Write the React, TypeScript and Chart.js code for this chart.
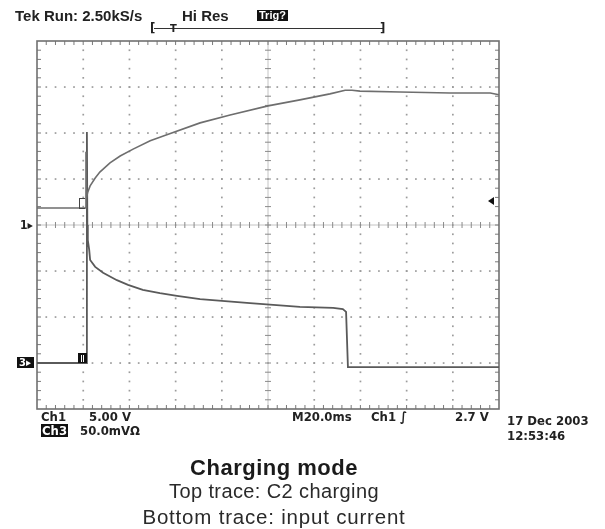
import React, { useEffect, useRef } from "react";
import { Chart, registerables } from "chart.js";

Chart.register(...registerables);

// Time axis in divisions (0..10), vertical axis in divisions (-4..4)
const ch1X = [0, 1.04, 1.06, 1.06, 1.07, 1.1, 1.15, 1.26, 1.36, 1.58, 1.8, 2.08, 2.45, 2.81, 3.53, 4.18, 5.0, 5.69, 6.34, 6.67, 6.82, 6.99, 7.86, 8.94, 9.81, 10];
const ch1Y = [0.37, 0.37, 0.37, 1.59, 0.59, 0.72, 0.85, 1.02, 1.15, 1.35, 1.5, 1.65, 1.83, 1.96, 2.22, 2.39, 2.59, 2.72, 2.85, 2.93, 2.93, 2.91, 2.89, 2.87, 2.87, 2.83];

const ch3X = [0, 1.08, 1.08, 1.09, 1.1, 1.13, 1.15, 1.26, 1.43, 1.73, 1.97, 2.29, 2.66, 3.03, 3.53, 4.61, 5.69, 6.41, 6.62, 6.69, 6.73, 10];
const ch3Y = [-3.0, -3.0, 2.02, 0, -0.33, -0.54, -0.76, -0.91, -1.04, -1.2, -1.3, -1.41, -1.48, -1.54, -1.61, -1.7, -1.78, -1.8, -1.83, -1.89, -3.09, -3.09];

const xDivs = [0, 10];
const yDivs = [-4, 4];

const toPoints = (xs: number[], ys: number[]) => xs.map((x, i) => ({ x, y: ys[i] }));

const scopeGrid = {
  id: "scopeGrid",
  beforeDatasetsDraw(chart: any) {
    const { ctx, chartArea: a, scales } = chart;
    const sx = scales.x;
    const sy = scales.y;
    ctx.save();
    // dotted graticule
    ctx.fillStyle = "#9c9c9c";
    for (let gx = xDivs[0] + 1; gx < xDivs[1]; gx++) {
      if (gx === 5) continue;
      const px = sx.getPixelForValue(gx);
      for (let k = 1; k < (yDivs[1] - yDivs[0]) * 5; k++) {
        const py = sy.getPixelForValue(yDivs[0] + k * 0.2);
        ctx.fillRect(px - 0.8, py - 0.8, 1.7, 1.7);
      }
    }
    for (let gy = yDivs[0] + 1; gy < yDivs[1]; gy++) {
      if (gy === 0) continue;
      const py = sy.getPixelForValue(gy);
      for (let k = 1; k < (xDivs[1] - xDivs[0]) * 5; k++) {
        const px = sx.getPixelForValue(xDivs[0] + k * 0.2);
        ctx.fillRect(px - 0.8, py - 0.8, 1.7, 1.7);
      }
    }
    // center cross lines
    const cx = sx.getPixelForValue(5);
    const cy = sy.getPixelForValue(0);
    ctx.strokeStyle = "#c4c4c4";
    ctx.lineWidth = 1;
    ctx.beginPath();
    ctx.moveTo(a.left, cy);
    ctx.lineTo(a.right, cy);
    ctx.moveTo(cx, a.top);
    ctx.lineTo(cx, a.bottom);
    ctx.stroke();
    ctx.strokeStyle = "#8a8a8a";
    ctx.beginPath();
    for (let k = 1; k < 50; k++) {
      const px = sx.getPixelForValue(k * 0.2);
      ctx.moveTo(px, cy - 3);
      ctx.lineTo(px, cy + 3);
    }
    for (let k = 1; k < 40; k++) {
      const py = sy.getPixelForValue(-4 + k * 0.2);
      ctx.moveTo(cx - 3, py);
      ctx.lineTo(cx + 3, py);
    }
    ctx.stroke();
    // border ticks
    ctx.strokeStyle = "#7a7a7a";
    ctx.beginPath();
    for (let k = 1; k < 50; k++) {
      const px = sx.getPixelForValue(k * 0.2);
      ctx.moveTo(px, a.top);
      ctx.lineTo(px, a.top + 4);
      ctx.moveTo(px, a.bottom);
      ctx.lineTo(px, a.bottom - 4);
    }
    for (let k = 1; k < 40; k++) {
      const py = sy.getPixelForValue(-4 + k * 0.2);
      ctx.moveTo(a.left, py);
      ctx.lineTo(a.left + 4, py);
      ctx.moveTo(a.right, py);
      ctx.lineTo(a.right - 4, py);
    }
    ctx.stroke();
    // border
    ctx.strokeStyle = "#707070";
    ctx.lineWidth = 1.6;
    ctx.strokeRect(a.left, a.top, a.right - a.left, a.bottom - a.top);
    ctx.restore();
  },
};

const scope: React.CSSProperties = {
  position: "absolute",
  fontFamily: "'DejaVu Sans', sans-serif",
  fontStretch: "condensed",
  fontWeight: "bold",
  fontSize: 13,
  lineHeight: "13px",
  color: "#222",
  whiteSpace: "nowrap",
};

const head: React.CSSProperties = {
  position: "absolute",
  fontFamily: "'Liberation Sans', Arial, sans-serif",
  fontWeight: "bold",
  fontSize: 15,
  lineHeight: "15px",
  color: "#222",
  whiteSpace: "nowrap",
};

export default function App() {
  const ref = useRef<HTMLCanvasElement | null>(null);
  useEffect(() => {
    if (!ref.current) return;
    const chart = new Chart(ref.current, {
      type: "line",
      data: {
        datasets: [
          {
            label: "Ch1",
            data: toPoints(ch1X, ch1Y),
            borderColor: "#6e6e6e",
            borderWidth: 1.6,
            pointRadius: 0,
            tension: 0,
          },
          {
            label: "Ch3",
            data: toPoints(ch3X, ch3Y),
            borderColor: "#5a5a5a",
            borderWidth: 1.8,
            pointRadius: 0,
            tension: 0,
          },
        ],
      },
      options: {
        animation: false,
        responsive: false,
        devicePixelRatio: 1,
        layout: { padding: { left: 37, top: 41, right: 106, bottom: 120 } },
        scales: {
          x: { type: "linear", min: xDivs[0], max: xDivs[1], display: false },
          y: { type: "linear", min: yDivs[0], max: yDivs[1], display: false },
        },
        plugins: { legend: { display: false }, tooltip: { enabled: false } },
      },
      plugins: [scopeGrid],
    });
    return () => chart.destroy();
  }, []);

  return (
    <div style={{ position: "fixed", left: 0, top: 0, width: 605, height: 529, background: "#fff", overflow: "hidden" }}>
      <canvas ref={ref} width={605} height={529} style={{ position: "absolute", left: 0, top: 0 }} />
      {/* header */}
      <div style={{ ...head, left: 15, top: 8 }}>Tek Run: 2.50kS/s</div>
      <div style={{ ...head, left: 182, top: 8 }}>Hi Res</div>
      <div style={{ ...head, left: 257, top: 10, fontSize: 11, lineHeight: "11px", background: "#111", color: "#fff", padding: "0 2px" }}>Trig?</div>
      {/* record bracket */}
      <div style={{ position: "absolute", left: 154, top: 28, width: 229, borderTop: "1px solid #333" }} />
      <div style={{ ...scope, left: 150, top: 21, fontSize: 13 }}>[</div>
      <div style={{ ...scope, left: 380, top: 21, fontSize: 13 }}>]</div>
      <div style={{ ...scope, left: 170, top: 22, fontSize: 11 }}>T</div>
      {/* channel markers */}
      <div style={{ ...scope, left: 20, top: 219, fontSize: 12 }}>1▸</div>
      <div style={{ ...scope, left: 17, top: 357, fontSize: 11, lineHeight: "11px", background: "#111", color: "#fff", padding: "0 3px 0 2px" }}>3▸</div>
      <div style={{ position: "absolute", left: 79, top: 198, width: 5, height: 9, border: "1px solid #444", borderRight: "none", fontSize: 0 }} />
      <div style={{ position: "absolute", left: 78, top: 353, width: 9, height: 10, background: "#111" }}>
        <div style={{ position: "absolute", left: 3, top: 2, width: 1, height: 7, background: "#fff" }} />
        <div style={{ position: "absolute", left: 5, top: 2, width: 1, height: 7, background: "#fff" }} />
      </div>
      <div style={{ position: "absolute", left: 488, top: 197, width: 0, height: 0, borderTop: "4px solid transparent", borderBottom: "4px solid transparent", borderRight: "6px solid #111" }} />
      {/* bottom readouts */}
      <div style={{ ...scope, left: 41, top: 410 }}>Ch1</div>
      <div style={{ ...scope, left: 89, top: 410 }}>5.00 V</div>
      <div style={{ ...scope, left: 41, top: 424, background: "#111", color: "#fff", padding: "0 1px" }}>Ch3</div>
      <div style={{ ...scope, left: 80, top: 424 }}>50.0mVΩ</div>
      <div style={{ ...scope, left: 292, top: 410 }}>M20.0ms</div>
      <div style={{ ...scope, left: 371, top: 410 }}>Ch1 ∫</div>
      <div style={{ ...scope, left: 455, top: 410 }}>2.7 V</div>
      <div style={{ ...scope, left: 507, top: 414 }}>17 Dec 2003</div>
      <div style={{ ...scope, left: 507, top: 429 }}>12:53:46</div>
      {/* caption */}
      <div style={{ position: "absolute", left: 0, width: 548, top: 457, textAlign: "center", fontFamily: "'Liberation Sans', Arial, sans-serif", fontWeight: "bold", fontSize: 22, lineHeight: "22px", letterSpacing: 0.5, color: "#1a1a1a" }}>Charging mode</div>
      <div style={{ position: "absolute", left: 0, width: 548, top: 481, textAlign: "center", fontFamily: "'Liberation Sans', Arial, sans-serif", fontSize: 20, lineHeight: "20px", letterSpacing: 0.4, color: "#2a2a2a" }}>Top trace: C2 charging</div>
      <div style={{ position: "absolute", left: 0, width: 548, top: 507, textAlign: "center", fontFamily: "'Liberation Sans', Arial, sans-serif", fontSize: 20.5, lineHeight: "20px", letterSpacing: 0.8, color: "#2a2a2a" }}>Bottom trace: input current</div>
    </div>
  );
}
